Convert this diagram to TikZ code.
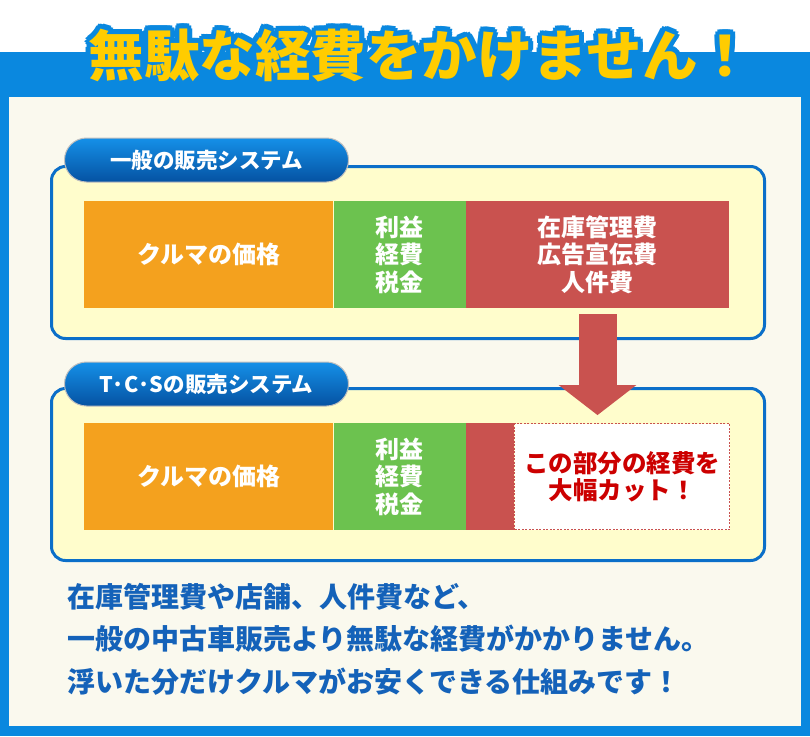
\documentclass[tikz,border=0pt]{standalone}
\usepackage{fontspec}
\setmainfont{Noto Sans CJK JP}
\usetikzlibrary{arrows.meta,positioning,calc}
\definecolor{band}{HTML}{0A88DF}
\definecolor{paper}{HTML}{FAF9EE}
\definecolor{frame}{HTML}{0B6FC9}
\definecolor{cream}{HTML}{FFFDCC}
\definecolor{price}{HTML}{F4A11E}
\definecolor{margin}{HTML}{6CC24F}
\definecolor{cost}{HTML}{C9524F}
\definecolor{cutred}{HTML}{CC0000}
\definecolor{ink}{HTML}{1462B9}
\definecolor{gold}{HTML}{FFCC00}
\definecolor{pilltop}{HTML}{1590E8}
\definecolor{pillbot}{HTML}{0552A2}
\tikzset{
  panel/.style={draw=frame,line width=3pt,fill=cream,rounded corners=14pt,minimum width=713pt,minimum height=172pt,anchor=north west,inner sep=0pt},
  pill/.style={draw=black!25,line width=1pt,top color=pilltop,bottom color=pillbot,rounded corners=22pt,minimum width=284pt,minimum height=44pt,anchor=west,text=white,font=\fontsize{21.5}{21.5}\selectfont\bfseries},
  bar/.style={inner sep=0pt,minimum height=107pt,align=center,text=white,font=\fontsize{24}{27.5}\selectfont\bfseries},
  cutbox/.style={bar,draw=cost,line width=1.2pt,dash pattern=on 2pt off 1.5pt,fill=white,text=cutred},
  bigarrow/.style={line width=38pt,color=cost,-{Triangle[length=30pt,width=76pt]}},
  titlefont/.style={font=\fontsize{55.5}{55.5}\selectfont\bfseries,inner sep=0pt},
  halo/.style={titlefont,text=band},
  note/.style={anchor=north west,align=left,text=ink,inner sep=0pt,font=\fontsize{28}{42.5}\selectfont\bfseries},
}
\begin{document}
\begin{tikzpicture}[x=1pt,y=-1pt]
  \useasboundingbox (0,0) rectangle (810,736);
  % backdrop
  \fill[white] (0,0) rectangle (810,736);
  \fill[band] (0,52) rectangle (810,736);
  \fill[paper] (9,97) rectangle (801,726);
  % title with outline
  \foreach \a in {0,30,...,330}
    \node[halo] (halo\a) at ($(421,55)+(\a:5pt)$) {無駄な経費をかけません！};
  \node[titlefont,text=gold] (title) at (421,55) {無駄な経費をかけません！};

  % ordinary system
  \node[panel] (sys1) at (50,165) {};
  \node[pill] (lab1) at (64,160) {一般の販売システム};
  \node[bar,fill=price,minimum width=249pt,anchor=north west] (price1) at (84,201) {クルマの価格};
  \node[bar,fill=margin,minimum width=132pt,right=0pt of price1] (margin1) {利益\\経費\\税金};
  \node[bar,fill=cost,minimum width=263pt,right=0pt of margin1] (cost1) {在庫管理費\\広告宣伝費\\人件費};

  % T.C.S system
  \node[panel] (sys2) at (50,387) {};
  \node[pill] (lab2) at (64,384) {T·C·Sの販売システム};
  \node[bar,fill=price,minimum width=249pt,anchor=north west] (price2) at (84,423) {クルマの価格};
  \node[bar,fill=margin,minimum width=132pt,right=0pt of price2] (margin2) {利益\\経費\\税金};
  \node[bar,fill=cost,minimum width=48pt,right=0pt of margin2] (cost2) {};
  \node[cutbox,minimum width=215pt,minimum height=106pt,right=0pt of cost2,font=\fontsize{24.5}{27.5}\selectfont\bfseries] (cut) {この部分の経費を\\大幅カット！};

  \draw[bigarrow,shorten >=8pt] ([yshift=-6pt]cost1.south) -- (cost1.south |- cut.north);

  \node[note] (summary) at (67,583) {在庫管理費や店舗、人件費など、\\一般の中古車販売より無駄な経費がかかりません。\\浮いた分だけクルマがお安くできる仕組みです！};
\end{tikzpicture}
\end{document}
